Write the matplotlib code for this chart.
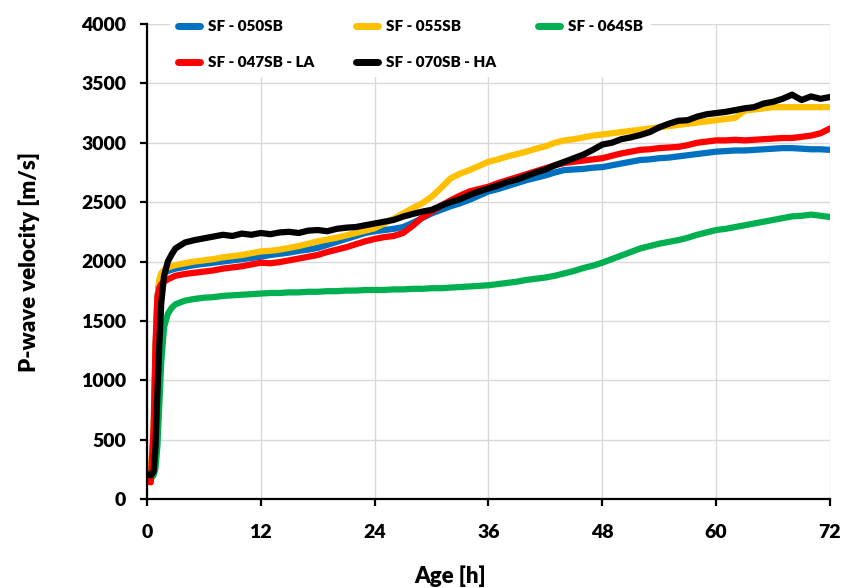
import numpy as np
import matplotlib
matplotlib.use('Agg')
import matplotlib.pyplot as plt

plt.rcParams['font.family'] = ['Lato', 'DejaVu Sans']
plt.rcParams['font.weight'] = 'heavy'

# time axis (h): dense sampling during the early rise, then hourly
hours = [0, 0.4, 0.7, 0.9, 1.1, 1.3, 1.5, 1.8, 2.2, 2.6, 3] + list(range(4, 73))

v_050 = [200, 190, 520, 1250, 1700, 1830, 1870, 1900, 1920, 1930, 1940,
         1955, 1970, 1980, 1990, 2000, 2010, 2020, 2030, 2040, 2055,
         2065, 2075, 2090, 2100, 2115, 2140, 2165, 2190, 2215, 2240,
         2255, 2265, 2275, 2290, 2325, 2365, 2405, 2435, 2465, 2490,
         2520, 2555, 2590, 2610, 2635, 2660, 2685, 2705, 2725, 2750,
         2770, 2775, 2780, 2790, 2795, 2810, 2825, 2840, 2855, 2860,
         2870, 2875, 2885, 2895, 2905, 2915, 2925, 2930, 2935, 2935,
         2940, 2945, 2950, 2955, 2955, 2950, 2945, 2945, 2940]

v_055 = [270, 260, 550, 1250, 1700, 1850, 1900, 1930, 1950, 1960, 1970,
         1985, 2000, 2010, 2020, 2035, 2045, 2055, 2070, 2085, 2090,
         2100, 2115, 2130, 2150, 2170, 2185, 2200, 2220, 2240, 2260,
         2280, 2320, 2360, 2405, 2450, 2490, 2545, 2620, 2700, 2740,
         2770, 2805, 2840, 2860, 2885, 2905, 2925, 2950, 2970, 3000,
         3020, 3030, 3045, 3060, 3070, 3080, 3090, 3100, 3110, 3120,
         3130, 3140, 3150, 3160, 3170, 3180, 3190, 3200, 3210, 3270,
         3280, 3290, 3300, 3300, 3300, 3300, 3300, 3300, 3300]

v_064 = [180, 170, 200, 260, 450, 800, 1150, 1450, 1560, 1610, 1640,
         1670, 1685, 1695, 1700, 1710, 1715, 1720, 1725, 1730, 1735,
         1735, 1740, 1740, 1745, 1745, 1750, 1750, 1755, 1755, 1760,
         1760, 1760, 1765, 1765, 1770, 1770, 1775, 1775, 1780, 1785,
         1790, 1795, 1800, 1810, 1820, 1830, 1845, 1855, 1865, 1880,
         1900, 1920, 1945, 1965, 1990, 2020, 2050, 2080, 2110, 2130,
         2150, 2165, 2180, 2200, 2225, 2245, 2265, 2275, 2290, 2305,
         2320, 2335, 2350, 2365, 2380, 2385, 2395, 2385, 2375]

v_047 = [150, 140, 600, 1300, 1700, 1780, 1810, 1830, 1850, 1865, 1880,
         1895, 1905, 1915, 1925, 1940, 1950, 1960, 1975, 1990, 1985,
         1995, 2010, 2025, 2040, 2055, 2080, 2100, 2120, 2145, 2170,
         2190, 2205, 2215, 2240, 2300, 2370, 2420, 2470, 2515, 2555,
         2590, 2610, 2630, 2660, 2685, 2710, 2735, 2760, 2785, 2810,
         2830, 2840, 2850, 2860, 2870, 2890, 2910, 2925, 2940, 2945,
         2955, 2960, 2965, 2980, 3000, 3010, 3020, 3020, 3025, 3020,
         3025, 3030, 3035, 3040, 3040, 3050, 3060, 3080, 3120]

v_070 = [210, 200, 230, 450, 900, 1300, 1650, 1880, 2000, 2060, 2110,
         2160, 2180, 2195, 2210, 2225, 2215, 2235, 2225, 2240, 2230,
         2245, 2250, 2240, 2260, 2265, 2255, 2275, 2285, 2290, 2305,
         2320, 2335, 2350, 2378, 2400, 2420, 2435, 2470, 2500, 2525,
         2560, 2590, 2615, 2640, 2670, 2690, 2720, 2750, 2775, 2810,
         2840, 2870, 2900, 2940, 2985, 3000, 3030, 3045, 3065, 3090,
         3130, 3160, 3185, 3190, 3220, 3240, 3250, 3260, 3275, 3290,
         3300, 3330, 3345, 3370, 3405, 3360, 3390, 3370, 3385]

series = [
    ('SF - 050SB', v_050, '#0070C0'),
    ('SF - 055SB', v_055, '#FFC000'),
    ('SF - 064SB', v_064, '#00B050'),
    ('SF - 047SB - LA', v_047, '#FF0000'),
    ('SF - 070SB - HA', v_070, '#000000'),
]

fig = plt.figure(figsize=(8.45, 5.88), dpi=100)
ax = fig.add_axes([147 / 845, 1 - 499 / 588, 683 / 845, 475 / 588])

lines = {}
for name, vals, col in series:
    ln, = ax.plot(hours, vals, color=col, lw=4.5, solid_capstyle='round',
                  solid_joinstyle='round', label=name)
    lines[name] = ln

ax.set_xlim(0, 72)
ax.set_ylim(0, 4000)
ax.set_xticks(range(0, 73, 12))
ax.set_yticks(range(0, 4001, 500))
ax.grid(True, color='#d9d9d9', lw=1)
ax.set_axisbelow(True)
for s in ['top', 'right']:
    ax.spines[s].set_visible(False)
for s in ['left', 'bottom']:
    ax.spines[s].set_linewidth(1.6)
ax.tick_params(direction='out', length=5, width=1.6, labelsize=14)
ax.tick_params(axis='x', pad=13)
ax.tick_params(axis='y', pad=10)

ax.set_xlabel('Age [h]', fontsize=16, fontweight='heavy')
ax.set_ylabel('P-wave velocity [m/s]', fontsize=16, fontweight='heavy')
ax.xaxis.set_label_coords((450 - 147) / 683, (499 - 565) / 475)
ax.yaxis.set_label_coords(-0.157, 0.5)

# legend order so rows read: 050, 055, 064 / 047-LA, 070-HA
order = ['SF - 050SB', 'SF - 047SB - LA', 'SF - 055SB', 'SF - 070SB - HA', 'SF - 064SB']
leg = ax.legend([lines[k] for k in order], order, ncol=3, loc='upper left',
                bbox_to_anchor=(0.023, 1.04), frameon=True, framealpha=1,
                edgecolor='none', facecolor='white', fancybox=False,
                prop={'size': 11, 'weight': 'heavy'}, handlelength=1.45,
                handletextpad=0.5, columnspacing=2.75, labelspacing=1.5,
                borderpad=0.5)
for h in leg.get_lines():
    h.set_linewidth(5)

fig.savefig('out.png', dpi=100)
